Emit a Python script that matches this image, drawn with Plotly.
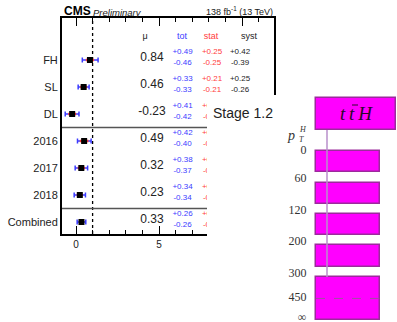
import plotly.graph_objects as go

W, H = 397, 322

# ---------------- data ----------------
categories = ["FH", "SL", "DL", "2016", "2017", "2018", "Combined"]
mu = [0.84, 0.46, -0.23, 0.49, 0.32, 0.23, 0.33]
tot_up = [0.49, 0.33, 0.41, 0.42, 0.38, 0.34, 0.26]
tot_dn = [0.46, 0.33, 0.42, 0.40, 0.37, 0.34, 0.26]
stat_up = [0.25, 0.21, 0.24, 0.26, 0.22, 0.19, 0.14]
stat_dn = [0.25, 0.21, 0.24, 0.26, 0.22, 0.19, 0.14]
syst_up = [0.42, 0.25]          # only the rows that are visible
syst_dn = [0.39, 0.26]
x_ticks = [0, 5, 10]

stxs_edges = ["0", "60", "120", "200", "300", "450", "∞"]
stxs_process = "<i>t\u2009t\u2009H</i>"

rows = list(range(len(categories)))


def px_to_paper_x(p):
    return p / W


def px_to_paper_y(p):
    return 1 - p / H


# main-axis pixel -> mu units (0 at px 76, 16.6 px per unit)
X0PX, XSCALE = 76.0, 16.6


def mu_at(p):
    return (p - X0PX) / XSCALE


BLUE = "#3c3cff"
RED = "#ff3c3c"

fig = go.Figure()

# total uncertainty (blue)
fig.add_trace(go.Scatter(
    x=mu, y=rows, mode="markers", marker=dict(size=1, color="rgba(0,0,0,0)"),
    error_x=dict(type="data", symmetric=False, array=tot_up, arrayminus=tot_dn,
                 color=BLUE, thickness=1.5, width=2.5),
    showlegend=False, hoverinfo="skip"))
# stat uncertainty (red)
fig.add_trace(go.Scatter(
    x=mu, y=rows, mode="markers", marker=dict(size=1, color="rgba(0,0,0,0)"),
    error_x=dict(type="data", symmetric=False, array=stat_up, arrayminus=stat_dn,
                 color=RED, thickness=2.5, width=0),
    showlegend=False, hoverinfo="skip"))
# central values
fig.add_trace(go.Scatter(
    x=mu, y=rows, mode="markers",
    marker=dict(symbol="square", size=6, color="black"),
    showlegend=False, hoverinfo="skip"))

# text columns
fig.add_trace(go.Scatter(
    x=[mu_at(152)] * len(rows), y=[r - 0.07 for r in rows], mode="text",
    text=[f"{v:.2f}" for v in mu], textposition="middle center",
    textfont=dict(family="Liberation Sans", size=12, color="#222"),
    showlegend=False, hoverinfo="skip"))
fig.add_trace(go.Scatter(
    x=[mu_at(182.5)] * len(rows), y=[r - 0.09 for r in rows], mode="text",
    text=[f"+{u:.2f}<br>-{d:.2f}" for u, d in zip(tot_up, tot_dn)],
    textposition="middle center",
    textfont=dict(family="Liberation Sans", size=8, color=BLUE),
    showlegend=False, hoverinfo="skip"))
fig.add_trace(go.Scatter(
    x=[mu_at(212)] * len(rows), y=[r - 0.09 for r in rows], mode="text",
    text=[f"+{u:.2f}<br>-{d:.2f}" for u, d in zip(stat_up, stat_dn)],
    textposition="middle center",
    textfont=dict(family="Liberation Sans", size=8, color=RED),
    showlegend=False, hoverinfo="skip"))
fig.add_trace(go.Scatter(
    x=[mu_at(240)] * len(syst_up), y=[r - 0.09 for r in rows[:len(syst_up)]], mode="text",
    text=[f"+{u:.2f}<br>-{d:.2f}" for u, d in zip(syst_up, syst_dn)],
    textposition="middle center",
    textfont=dict(family="Liberation Sans", size=8, color="#222"),
    showlegend=False, hoverinfo="skip"))
# header row
fig.add_trace(go.Scatter(
    x=[mu_at(145), mu_at(182), mu_at(211), mu_at(249)], y=[-0.85] * 4, mode="text",
    text=["μ", "tot", "stat", "syst"], textposition="middle center",
    textfont=dict(family="Liberation Sans", size=9, color=["#222", BLUE, RED, "#222"]),
    showlegend=False, hoverinfo="skip"))

# ---------------- STXS diagram (x2 / y2) ----------------
box_h = 0.68
n_bins = len(stxs_edges) - 2  # 450 is a dashed sub-boundary
box_tops = list(range(n_bins))
box_heights = [box_h] * (n_bins - 1) + [2 * box_h]
ttH_top, ttH_bot = -1.683, -0.667
conn_x = 0.1375

fig.add_trace(go.Scatter(
    x=[conn_x, conn_x], y=[ttH_bot, box_tops[-1]], mode="lines",
    line=dict(color="#b98fcb", width=1.5), xaxis="x2", yaxis="y2",
    showlegend=False, hoverinfo="skip"))
fig.add_trace(go.Bar(
    x=[0.5], y=[ttH_bot - ttH_top], base=[ttH_top], width=[1.0],
    marker=dict(color="#ff00ff", line=dict(color="#9c2a9c", width=1.5)),
    xaxis="x2", yaxis="y2", showlegend=False, hoverinfo="skip"))
fig.add_trace(go.Bar(
    x=[0.4] * n_bins, y=box_heights, base=box_tops, width=[0.8] * n_bins,
    marker=dict(color="#ff00ff", line=dict(color="#9c2a9c", width=1.5)),
    xaxis="x2", yaxis="y2", showlegend=False, hoverinfo="skip"))
dash_y = box_tops[-1] + box_h
fig.add_trace(go.Scatter(
    x=[0.0, 0.8], y=[dash_y, dash_y], mode="lines",
    line=dict(color="#a050a0", width=1, dash="dash"), xaxis="x2", yaxis="y2",
    showlegend=False, hoverinfo="skip"))
label_y = [0.0] + [k - 0.1 for k in range(1, n_bins)] + [dash_y, box_tops[-1] + 2 * box_h - 0.05]
fig.add_trace(go.Scatter(
    x=[-0.12] * len(stxs_edges), y=label_y, mode="text", text=stxs_edges,
    textposition="middle left", cliponaxis=False,
    textfont=dict(family="Liberation Serif", size=12, color="#333"),
    xaxis="x2", yaxis="y2", showlegend=False, hoverinfo="skip"))

# ---------------- shapes ----------------
shapes = [
    dict(type="line", xref="x", x0=1, x1=1, yref="y domain", y0=0, y1=1,
         line=dict(color="black", width=1.3, dash="dot"), layer="below"),
    dict(type="line", xref="x domain", x0=0, x1=1, yref="y", y0=2.5, y1=2.5,
         line=dict(color="#555", width=1.5), layer="above"),
    dict(type="line", xref="x domain", x0=0, x1=1, yref="y", y0=5.5, y1=5.5,
         line=dict(color="#555", width=1.5), layer="above"),
    # overlaid white panel
    dict(type="rect", xref="paper", yref="paper",
         x0=px_to_paper_x(207), x1=px_to_paper_x(285),
         y0=0, y1=px_to_paper_y(95),
         fillcolor="white", line=dict(width=0), layer="above"),
    # bar over the second t of ttH
    dict(type="line", xref="paper", yref="paper",
         x0=px_to_paper_x(352), x1=px_to_paper_x(358),
         y0=px_to_paper_y(105), y1=px_to_paper_y(105),
         line=dict(color="#2a0a2a", width=1), layer="above"),
]

annotations = [
    dict(text="<b>CMS</b>", x=px_to_paper_x(62), y=px_to_paper_y(11.5), xref="paper", yref="paper",
         xanchor="left", yanchor="middle", showarrow=False,
         font=dict(family="Liberation Sans", size=12, color="black")),
    dict(text="<i>Preliminary</i>", x=px_to_paper_x(91), y=px_to_paper_y(12.5), xref="paper", yref="paper",
         xanchor="left", yanchor="middle", showarrow=False,
         font=dict(family="Liberation Sans", size=9.5, color="#222")),
    dict(text="138 fb<sup>-1</sup> (13 TeV)", x=px_to_paper_x(275), y=px_to_paper_y(11),
         xref="paper", yref="paper", xanchor="right", yanchor="middle", showarrow=False,
         font=dict(family="Liberation Sans", size=9, color="#222")),
    dict(text="Stage 1.2", x=px_to_paper_x(211), y=px_to_paper_y(113), xref="paper", yref="paper",
         xanchor="left", yanchor="middle", showarrow=False,
         font=dict(family="Liberation Sans", size=14, color="#222")),
    dict(text=stxs_process, x=0.5, y=(ttH_top + ttH_bot) / 2, xref="x2", yref="y2",
         xanchor="center", yanchor="middle", showarrow=False,
         font=dict(family="Liberation Serif", size=19, color="#2a0a2a")),
    dict(text="<i>p</i>", x=px_to_paper_x(297), y=px_to_paper_y(135), xref="paper", yref="paper",
         xanchor="right", yanchor="middle", showarrow=False,
         font=dict(family="Liberation Serif", size=14, color="#333")),
    dict(text="<i>H</i>", x=px_to_paper_x(296.5), y=px_to_paper_y(129), xref="paper", yref="paper",
         xanchor="left", yanchor="middle", showarrow=False,
         font=dict(family="Liberation Serif", size=8, color="#333")),
    dict(text="<i>T</i>", x=px_to_paper_x(296.5), y=px_to_paper_y(139), xref="paper", yref="paper",
         xanchor="left", yanchor="middle", showarrow=False,
         font=dict(family="Liberation Serif", size=8, color="#333")),
]

fig.update_layout(
    width=W, height=H, margin=dict(l=0, r=0, t=0, b=0),
    paper_bgcolor="white", plot_bgcolor="white",
    barmode="overlay", bargap=0,
    shapes=shapes, annotations=annotations,
    xaxis=dict(domain=[px_to_paper_x(62), px_to_paper_x(274)], range=[mu_at(62), mu_at(274)],
               anchor="y", tickmode="array", tickvals=x_ticks, ticktext=[str(t) for t in x_ticks],
               ticks="inside", ticklen=8, tickwidth=1.2, tickcolor="black",
               minor=dict(ticks="inside", ticklen=4, dtick=1, tick0=0, tickwidth=1.2,
                          tickcolor="black", showgrid=False),
               showline=True, linewidth=2, linecolor="black", mirror="ticks",
               showgrid=False, zeroline=False,
               tickfont=dict(family="Liberation Sans", size=10, color="#222")),
    yaxis=dict(domain=[px_to_paper_y(234), px_to_paper_y(18)], range=[6.444, -1.556],
               anchor="x", tickmode="array", tickvals=rows, ticktext=categories, ticks="",
               showline=True, linewidth=2, linecolor="black", mirror=True,
               showgrid=False, zeroline=False,
               tickfont=dict(family="Liberation Sans", size=11, color="#222")),
    xaxis2=dict(domain=[px_to_paper_x(280), px_to_paper_x(396)], range=[-0.45, 1.0],
                anchor="y2", visible=False, fixedrange=True),
    yaxis2=dict(domain=[0, px_to_paper_y(95)], range=[5.429, -1.778],
                anchor="x2", visible=False, fixedrange=True),
)

fig.write_html("out.html")
